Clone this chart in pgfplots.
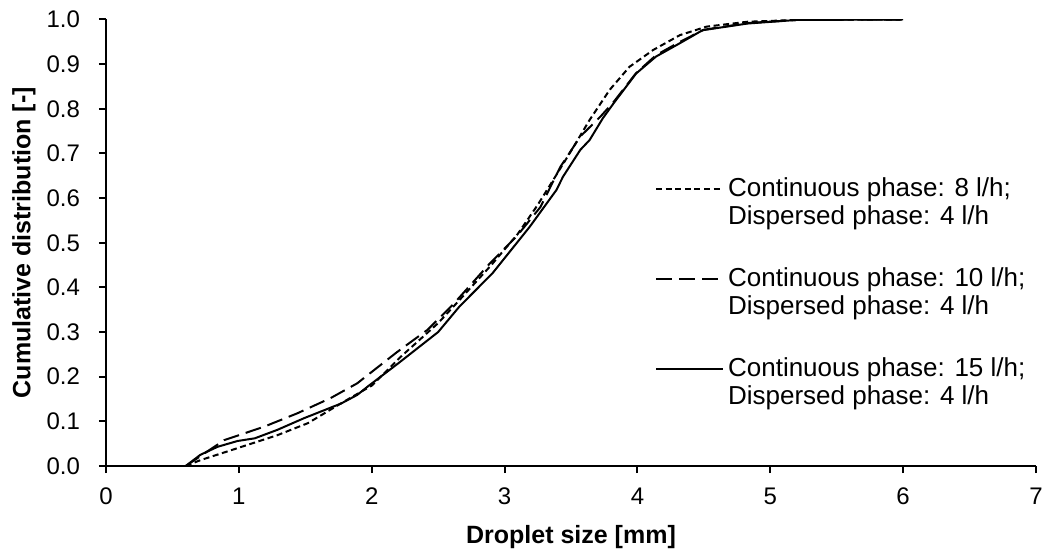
\documentclass[border=0pt]{standalone}
\usepackage{fontspec}
\setmainfont{Liberation Sans}
\usepackage{pgfplots}
\pgfplotsset{compat=1.18}
\begin{document}
\begin{tikzpicture}
\begin{axis}[
  scale only axis,
  width=465pt, height=223.25pt,
  xmin=0, xmax=7, ymin=0, ymax=1,
  xtick={0,1,...,7},
  ytick={0,0.1,...,1.0},
  axis x line*=bottom, axis y line*=left,
  axis line style={line width=1pt, -},
  tick style={line width=1pt, black},
  tick align=outside, major tick length=3.5pt,
  /pgf/number format/assume math mode=true,
  yticklabel style={/pgf/number format/fixed, /pgf/number format/fixed zerofill, /pgf/number format/precision=1, xshift=-6pt},
  xticklabel style={yshift=-4pt},
  ticklabel style={font=\fontsize{12}{14}\selectfont},
  xlabel={\textbf{Droplet size [mm]}},
  ylabel={\textbf{Cumulative distribution [-]}},
  xlabel style={at={([yshift=-35.5pt]axis description cs:0.5,0)}, anchor=center},
  ylabel style={at={([xshift=-41pt]axis description cs:0,0.5)}, anchor=center},
  label style={font=\fontsize{12.5}{14}\selectfont},
  legend style={draw=none, fill=none, at={(axis cs:4.13,0.655)}, anchor=north west,
    cells={anchor=west, align=left}, row sep=16pt, inner sep=0pt,
    font=\fontsize{13}{14}\selectfont},
  legend image code/.code={\draw[#1] (0pt,7pt) -- (33.5pt,7pt);},
]
\addplot[black, line width=1pt, dash pattern=on 3pt off 1.8pt] coordinates {
(0.6,0) (0.71,0.013) (0.99,0.040) (1.29,0.069) (1.52,0.096) (1.79,0.144) (2.0,0.18)
(2.22,0.245) (2.5,0.32) (2.64,0.365) (2.9,0.45) (3.1,0.52) (3.25,0.585) (3.39,0.652)
(3.52,0.715) (3.64,0.775) (3.79,0.842) (3.94,0.894) (4.12,0.932) (4.32,0.965)
(4.52,0.984) (4.83,0.995) (5.2,0.999) (6.0,1.0)};
\addlegendentry{Continuous phase: 8 l/h;\\Dispersed phase: 4 l/h}
\addplot[black, line width=1pt, dash pattern=on 8pt off 3.5pt] coordinates {
(0.6,0) (0.7,0.02) (0.89,0.058) (1.19,0.088) (1.44,0.118) (1.69,0.152) (1.89,0.185)
(2.19,0.255) (2.42,0.305) (2.61,0.361) (2.89,0.454) (3.09,0.514) (3.27,0.58) (3.42,0.67)
(3.57,0.738) (3.72,0.782) (3.82,0.815) (3.99,0.88) (4.14,0.92) (4.32,0.95) (4.5,0.977)
(4.83,0.992) (5.2,0.999) (6.0,1.0)};
\addlegendentry{Continuous phase: 10 l/h;\\Dispersed phase: 4 l/h}
\addplot[black, line width=1pt] coordinates {
(0.6,0) (0.71,0.025) (0.84,0.043) (0.99,0.056) (1.12,0.062) (1.29,0.081) (1.49,0.107)
(1.77,0.140) (1.89,0.159) (1.97,0.178) (2.2,0.23) (2.5,0.30) (2.66,0.357) (2.91,0.432)
(3.19,0.536) (3.39,0.618) (3.44,0.648) (3.57,0.708) (3.64,0.730) (3.74,0.779) (3.82,0.812)
(3.99,0.879) (4.14,0.917) (4.32,0.947) (4.49,0.976) (4.83,0.991) (5.2,0.999) (6.0,1.0)};
\addlegendentry{Continuous phase: 15 l/h;\\Dispersed phase: 4 l/h}
\end{axis}
\pgfresetboundingbox
\path[use as bounding box] (-53pt,-42.5pt) rectangle (468.5pt,233pt);
\end{tikzpicture}
\end{document}
